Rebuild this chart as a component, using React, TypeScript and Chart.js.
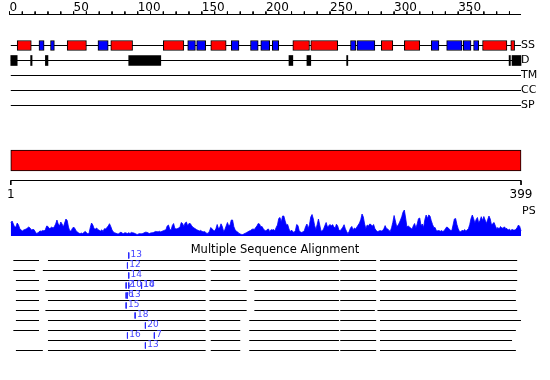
import { useEffect, useRef } from "react";
import { Chart, registerables } from "chart.js";

Chart.register(...registerables);

// ---------- DATA ----------
const SEQ_START = 1;
const SEQ_END = 399;
const rulerLabels = [0, 50, 100, 150, 200, 250, 300, 350];
const rulerTickStep = 10;
const rulerEnd = 399;

const trackLabels = ["SS", "D", "TM", "CC", "SP"];

const helixRanges: [number, number][] = [
  [6, 17], [45, 60], [79, 96], [120, 136], [157, 169], [221, 234],
  [235, 256], [290, 299], [308, 320], [369, 388], [391, 394],
];
const strandRanges: [number, number][] = [
  [23, 27], [32, 35], [69, 77], [139, 145], [146, 153], [173, 179],
  [188, 194], [196, 203], [205, 210], [266, 270], [271, 285],
  [329, 335], [341, 353], [354, 360], [362, 366],
];
const disorderRanges: [number, number][] = [
  [1, 6], [16.5, 17.6], [28, 30], [93, 118], [218, 221], [232, 235],
  [263, 263.9], [389.7, 390.7], [392, 399],
];
const domainRange: [number, number] = [1, 399];

const psValues = [
  13, 15, 12, 9, 9, 13, 11, 7.5, 6, 5,
  6, 6.5, 7, 8, 9, 8, 6, 6.5, 6.5, 4.5,
  2.5, 3, 4.3, 5, 4.8, 5.6, 5, 6.5, 10, 9.5,
  7.4, 8, 9, 7.8, 9.5, 12, 16, 12, 10, 14,
  12, 9, 13, 17, 15.5, 9, 5, 5, 7.5, 9,
  7.5, 5, 4, 3, 2.3, 3, 2.4, 3.5, 4.6, 3.5,
  2.2, 2.5, 8.5, 13, 11, 7.2, 7, 8, 6.3, 5.7,
  5, 6.2, 4.5, 7.3, 7, 8.5, 10, 12.3, 9.5, 6,
  4, 3.2, 2.8, 2.2, 2, 3.3, 3.8, 2.8, 2.4, 3.3,
  3, 2.4, 3.3, 2.4, 3.6, 3.3, 3, 2.4, 1.8, 1.6,
  2.3, 2.3, 2.3, 2.5, 3.2, 3.8, 3.7, 3.2, 2.4, 3,
  3.2, 3.3, 4, 4.6, 4.3, 4.2, 4.7, 4.1, 4.7, 5.3,
  5.8, 6.2, 10, 11, 6.8, 5.8, 10.5, 12.5, 7.5, 7,
  7.5, 7.9, 9.3, 13.5, 12.5, 9.5, 13, 14, 10, 12.5,
  12.4, 10.5, 8.8, 8, 7.2, 6.3, 5.7, 5, 5.6, 4.8,
  4.1, 4.5, 3.6, 2.6, 2.8, 4.8, 8.5, 7.2, 5.7, 5,
  7.2, 11.5, 7.5, 8.5, 12.2, 9.5, 4.6, 6.5, 10, 13.5,
  10, 11, 16, 16, 9.3, 6.2, 4.7, 4, 2.6, 2,
  1.6, 1.4, 2.2, 2.8, 3.5, 4.2, 5, 5.5, 6.6, 7,
  6.5, 8.5, 10, 12.5, 12, 9.2, 9.5, 7.2, 5.7, 5,
  6.5, 7, 4.3, 6.3, 6, 6.5, 5.2, 8.5, 11, 17.5,
  18.5, 14, 20, 20, 15, 11, 11.5, 7, 4.2, 6,
  4, 3.8, 5.3, 11.5, 10.5, 5.2, 3.9, 3.5, 4.2, 5.5,
  9.5, 12, 7.5, 11.5, 19, 21.5, 17, 10.5, 6.5, 11.5,
  17, 11, 4.8, 5.3, 7, 10.5, 13.5, 9, 10, 11.6,
  10, 11.4, 9.2, 7.8, 11.8, 10, 5.7, 5.4, 7, 8.8,
  11.3, 7.1, 4.4, 2.3, 4.7, 8, 9.6, 6, 8, 7,
  9, 11, 13, 16.5, 22, 19, 12, 7.3, 11, 10,
  12, 11.4, 9.8, 11.5, 7.5, 5.5, 4.5, 4.8, 5.4, 5,
  5.4, 7.2, 10.4, 7.6, 7.1, 5.5, 4.6, 8.2, 13.6, 20.5,
  15, 9.5, 10.5, 13, 16, 19.5, 24, 26, 18, 9,
  10, 9, 8, 6.7, 10.3, 12.5, 8, 12, 17.3, 18,
  10.5, 12, 8.5, 16.5, 21, 17.5, 21, 20, 15.3, 11.5,
  8.5, 8.4, 5.3, 5.2, 5.5, 4.7, 5.5, 4.5, 5.2, 7.2,
  9, 8.4, 7, 5.7, 5.4, 11, 17, 17.5, 11.5, 7.3,
  4.5, 4.3, 5.7, 4.9, 6.5, 4.8, 5.9, 7.4, 11.5, 17.5,
  21, 17.5, 13, 16.5, 18.5, 13, 15.5, 19.3, 15.5, 19.5,
  16, 12.5, 16.5, 20, 17, 11, 12.5, 13.5, 10, 7.3,
  8.5, 7, 9.5, 8, 7.8, 9.2, 7.6, 7.4, 6, 6.8,
  5.5, 6.6, 6, 6, 6.5, 8.5, 11, 9.5, 5,
];

const msaTitle = "Multiple Sequence Alignment";
const msaRows: [number, number][][] = [
  [[3, 23], [30, 153], [156, 180], [187, 257], [258, 286], [289, 396]],
  [[3, 20], [26, 153], [157, 180], [187, 257], [258, 286], [289, 396]],
  [[5, 23], [30, 153], [157, 180], [187, 257], [258, 286], [289, 396]],
  [[5, 23], [28, 153], [156, 185], [191, 257], [258, 286], [289, 395]],
  [[5, 23], [30, 153], [156, 185], [191, 257], [258, 286], [289, 395]],
  [[5, 23], [28, 153], [156, 185], [191, 257], [258, 285], [287, 396]],
  [[5, 23], [30, 153], [156, 180], [187, 257], [258, 286], [289, 399]],
  [[3, 23], [30, 153], [156, 180], [187, 257], [258, 286], [289, 395]],
  [[30, 153], [157, 180], [187, 257], [258, 286], [289, 392]],
  [[5, 26], [30, 153], [157, 180], [187, 257], [258, 286], [289, 395]],
];
const msaMarks: [number, string][][] = [
  [[93, "13"]],
  [[92, "12"]],
  [[93, "14"]],
  [[91, "2"], [93, "10"], [103, "14"], [103, "10"]],
  [[91, "6"], [92, "13"]],
  [[91, "15"]],
  [[98, "18"]],
  [[106, "20"]],
  [[92, "16"], [113, "7"]],
  [[106, "13"]],
];

// ---------- LAYOUT (pixel rows) ----------
const W = 550;
const H = 380;
const PX0 = 9.5;
const PX_PER_RES = 1.282;
const L = {
  rulerY: 14.5,
  rulerTickTop: 11.5,
  rulerLabelY: 11,
  tracks: [45.5, 60.5, 75.5, 90.5, 105.5],
  bigY: 160.5,
  bigThickness: 21,
  bottomRulerY: 180.5,
  bottomTickEnd: 185,
  bottomLabelY: 195,
  psLabelY: 211,
  psBase: 236,
  msaTitleY: 250.5,
  msaY0: 260.5,
  msaStep: 10,
};

type P = { x: number; y: number | null };
function hSegs(ranges: [number, number][], y: number): P[] {
  const pts: P[] = [];
  ranges.forEach(([s, e]) => pts.push({ x: s, y }, { x: e, y }, { x: e, y: null }));
  return pts;
}
function vSegs(xs: number[], y1: number, y2: number): P[] {
  const pts: P[] = [];
  xs.forEach((x) => pts.push({ x, y: y1 }, { x, y: y2 }, { x, y: null }));
  return pts;
}

const textPlugin = {
  id: "texts",
  afterDatasetsDraw(chart: any) {
    const { ctx, scales } = chart;
    const x = scales.x;
    const y = scales.y;
    ctx.save();
    ctx.fillStyle = "#000";
    ctx.textAlign = "left";
    ctx.textBaseline = "alphabetic";
    ctx.font = '12px "DejaVu Sans"';
    rulerLabels.forEach((v) => ctx.fillText(String(v), x.getPixelForValue(v), y.getPixelForValue(L.rulerLabelY)));

    ctx.font = '11px "DejaVu Sans"';
    ctx.textBaseline = "middle";
    trackLabels.forEach((t, i) => ctx.fillText(t, x.getPixelForValue(SEQ_END), y.getPixelForValue(L.tracks[i])));

    ctx.font = '12px "DejaVu Sans"';
    ctx.textAlign = "center";
    ctx.fillText(String(SEQ_START), x.getPixelForValue(SEQ_START), y.getPixelForValue(L.bottomLabelY));
    ctx.fillText(String(SEQ_END), x.getPixelForValue(SEQ_END), y.getPixelForValue(L.bottomLabelY));
    ctx.textAlign = "left";
    ctx.font = '11px "DejaVu Sans"';
    ctx.fillText("PS", x.getPixelForValue(SEQ_END) + 1, y.getPixelForValue(L.psLabelY));

    ctx.font = '11.5px "DejaVu Sans"';
    ctx.textAlign = "center";
    ctx.fillText(msaTitle, chart.width / 2, y.getPixelForValue(L.msaTitleY));

    ctx.font = '9px "DejaVu Sans"';
    ctx.textAlign = "left";
    ctx.fillStyle = "rgb(70,70,255)";
    msaMarks.forEach((row, i) => {
      const ry = L.msaY0 + i * L.msaStep;
      row.forEach(([pos, label]) => {
        ctx.fillText(label, x.getPixelForValue(pos) + 1.8, y.getPixelForValue(ry - 5.5));
      });
    });
    ctx.restore();
  },
};

export default function App() {
  const ref = useRef<HTMLCanvasElement | null>(null);
  useEffect(() => {
    document.body.style.margin = "0";
    const canvas = ref.current;
    if (!canvas) return;

    const barCommon = {
      type: "bar" as const,
      indexAxis: "y" as const,
      grouped: false,
      borderColor: "#000",
      borderWidth: 1,
      borderSkipped: false,
      xAxisID: "x",
      yAxisID: "y",
    };
    const lineCommon = {
      type: "line" as const,
      pointRadius: 0,
      borderWidth: 1,
      fill: false,
      tension: 0,
      spanGaps: false,
      xAxisID: "x",
      yAxisID: "y",
    };

    const trackLines: P[] = [];
    L.tracks.forEach((ty) => trackLines.push(...hSegs([[SEQ_START, SEQ_END]], ty)));
    const rulerTicks: number[] = [];
    for (let v = 0; v < rulerEnd; v += rulerTickStep) rulerTicks.push(v);
    const rulerPts: P[] = [
      ...hSegs([[0, rulerEnd]], L.rulerY),
      ...vSegs(rulerTicks, L.rulerTickTop, L.rulerY),
      ...hSegs([[SEQ_START, SEQ_END]], L.bottomRulerY),
      ...vSegs([SEQ_START, SEQ_END], L.bottomRulerY, L.bottomTickEnd),
    ];
    const msaPts: P[] = [];
    msaRows.forEach((row, i) => msaPts.push(...hSegs(row, L.msaY0 + i * L.msaStep)));
    const markPts: P[] = [];
    msaMarks.forEach((row, i) => {
      const ry = L.msaY0 + i * L.msaStep;
      markPts.push(...vSegs(row.map((m) => m[0]), ry - 8, ry - 2));
    });

    const chart = new Chart(canvas, {
      type: "bar",
      data: {
        datasets: [
          {
            ...barCommon,
            data: helixRanges.map(([s, e]) => ({ x: [s, e], y: L.tracks[0] })),
            backgroundColor: "#ff0000",
            barThickness: 10,
          } as any,
          {
            ...barCommon,
            data: strandRanges.map(([s, e]) => ({ x: [s, e], y: L.tracks[0] })),
            backgroundColor: "#0000ff",
            barThickness: 10,
          } as any,
          {
            ...barCommon,
            data: disorderRanges.map(([s, e]) => ({ x: [s, e], y: L.tracks[1] })),
            backgroundColor: "#000000",
            borderWidth: 0,
            barThickness: 10,
          } as any,
          {
            ...barCommon,
            data: [{ x: domainRange, y: L.bigY }],
            backgroundColor: "#ff0000",
            barThickness: L.bigThickness,
          } as any,
          { ...lineCommon, data: trackLines, borderColor: "#000" } as any,
          { ...lineCommon, data: rulerPts, borderColor: "#000" } as any,
          { ...lineCommon, data: msaPts, borderColor: "#000" } as any,
          { ...lineCommon, data: markPts, borderColor: "rgb(40,40,255)" } as any,
          {
            type: "line",
            data: psValues.map((v, i) => ({ x: SEQ_START + i, y: v })),
            xAxisID: "x",
            yAxisID: "yps",
            pointRadius: 0,
            borderWidth: 0.8,
            borderColor: "#0000ff",
            backgroundColor: "#0000ff",
            fill: { value: 0 },
            tension: 0,
          } as any,
        ],
      },
      options: {
        animation: false,
        responsive: false,
        events: [],
        layout: { padding: 0 },
        plugins: { legend: { display: false }, tooltip: { enabled: false }, title: { display: false } },
        scales: {
          x: {
            type: "linear",
            axis: "x",
            min: -PX0 / PX_PER_RES,
            max: (W - PX0) / PX_PER_RES,
            bounds: "data",
            offset: false,
            display: false,
          },
          y: {
            type: "linear",
            axis: "y",
            min: 0,
            max: H,
            reverse: true,
            bounds: "data",
            offset: false,
            display: false,
          },
          yps: {
            type: "linear",
            axis: "y",
            min: L.psBase - H,
            max: L.psBase,
            bounds: "data",
            offset: false,
            display: false,
          },
        } as any,
      },
      plugins: [textPlugin],
    });
    return () => chart.destroy();
  }, []);

  return (
    <div style={{ width: W, height: H, background: "#fff" }}>
      <canvas ref={ref} width={W} height={H} style={{ width: W, height: H, display: "block" }} />
    </div>
  );
}
